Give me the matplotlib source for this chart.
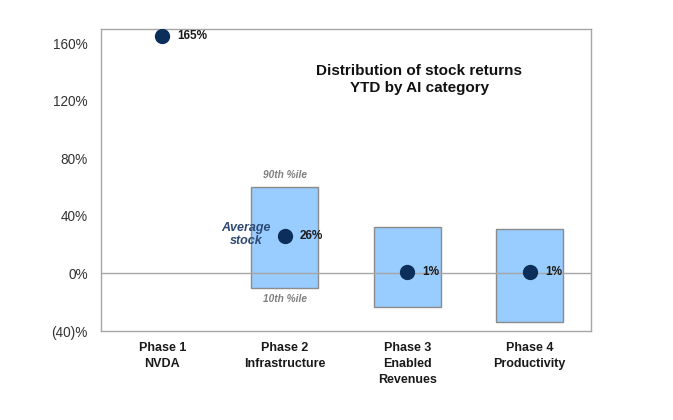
import matplotlib.pyplot as plt
import numpy as np

plt.rcParams['font.family'] = ['Liberation Sans', 'DejaVu Sans']

phases = ['Phase 1\nNVDA', 'Phase 2\nInfrastructure', 'Phase 3\nEnabled\nRevenues', 'Phase 4\nProductivity']
avg_return = [165, 26, 1, 1]
p90 = [None, 60, 32, 31]
p10 = [None, -10, -23, -34]
yticks = [-40, 0, 40, 80, 120, 160]
ytick_labels = ['(40)%', '0%', '40%', '80%', '120%', '160%']

fig = plt.figure(figsize=(6.73, 4.2), dpi=100)
ax = fig.add_axes([101/673, 1 - 331/420, 490/673, 302/420])

x = np.arange(len(phases))
box_w = 0.55
for i in x:
    if p90[i] is not None:
        ax.bar(i, p90[i] - p10[i], bottom=p10[i], width=box_w,
               color='#99ccff', edgecolor='#8c8c8c', linewidth=1, zorder=2)

ax.axhline(0, color='#a6a6a6', linewidth=1, zorder=3)
ax.scatter(x, avg_return, s=100, color='#0b2f5a', zorder=4)

for i in x:
    ax.annotate(f'{avg_return[i]}%', (i, avg_return[i]), xytext=(11, 0),
                textcoords='offset points', va='center', ha='left',
                fontsize=8.5, fontweight='bold', color='#1a1a1a', zorder=5)

# labels on phase 2 box
ax.text(1, p90[1] + 5, '90th %ile', ha='center', va='bottom', fontsize=7.3,
        style='italic', fontweight='bold', color='#7f7f7f')
ax.text(1, p10[1] - 4, '10th %ile', ha='center', va='top', fontsize=7.3,
        style='italic', fontweight='bold', color='#7f7f7f')
ax.text(0.685, avg_return[1] + 1, 'Average\nstock', ha='center', va='center', fontsize=9,
        style='italic', fontweight='bold', color='#2d4a73', linespacing=1.05)

ax.text(2.1, 135, 'Distribution of stock returns\nYTD by AI category', ha='center',
        va='center', fontsize=11, fontweight='bold', color='#111111', linespacing=1.3)

ax.set_xlim(-0.5, 3.5)
ax.set_ylim(-40, 170)
ax.set_yticks(yticks)
ax.set_yticklabels(ytick_labels)
ax.set_xticks(x)
ax.set_xticklabels(phases, fontweight='bold', fontsize=9, color='#1a1a1a', linespacing=1.45)
ax.tick_params(axis='both', length=0)
ax.tick_params(axis='y', labelsize=9.8, colors='#333333', pad=9.5)
ax.tick_params(axis='x', pad=8)
for s in ax.spines.values():
    s.set_color('#a6a6a6')
    s.set_linewidth(1)

fig.savefig('out.png', dpi=100)
